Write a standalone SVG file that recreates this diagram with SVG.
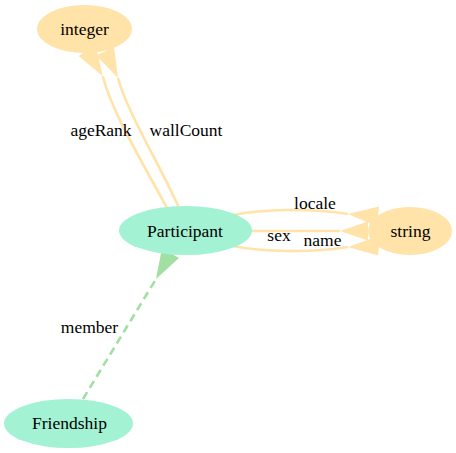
<svg xmlns="http://www.w3.org/2000/svg" width="456" height="453" viewBox="0 0 456 453" font-family="'Liberation Serif', 'DejaVu Serif', serif">
<style>
.warm{fill:#FFE3A8;stroke:none}
.cool{fill:#A3F2D4;stroke:none}
text{font-family:'Liberation Serif','DejaVu Serif',serif;font-size:17.5px;fill:#000;text-anchor:middle}
.we{fill:none;stroke:#FFE3A8;stroke-width:2.6}
.ge{fill:none;stroke:#A2DFA2;stroke-width:2.6;stroke-dasharray:8,5}
.wa{fill:#FFE3A8;stroke:none}
.ga{fill:#A2DFA2;stroke:none}
</style>
<rect width="456" height="453" fill="#fff"/>
<g id="connectors">
<g id="e-ageRank">
<path class="we" d="M167,208 C140,158 112,112 102.8,76.3"/>
<polygon class="wa" points="102.8,76.3 78.7,55.9 95.7,45.5"/>
<text x="101" y="136">ageRank</text>
</g>
<g id="e-wallCount">
<path class="we" d="M179,208 C160,165 127,112 118,78"/>
<polygon class="wa" points="118,78 96.2,55.6 114,47"/>
<text x="186" y="136">wallCount</text>
</g>
<g id="e-locale">
<path class="we" d="M233,215 C262,209 312,208 348,214"/>
<polygon class="wa" points="348,214 379,206.5 377,226.5"/>
<text x="315" y="209">locale</text>
</g>
<g id="e-sex">
<path class="we" d="M252,231 L340,231"/>
<polygon class="wa" points="340,231 368,221.5 368,240.5"/>
<text x="279" y="241">sex</text>
</g>
<g id="e-name">
<path class="we" d="M233,246 C262,252 312,253 348,247"/>
<polygon class="wa" points="348,247 380,235.5 378,255.5"/>
<text x="322.5" y="246">name</text>
</g>
<g id="e-member">
<path class="ge" d="M83,399 L156,279"/>
<polygon class="ga" points="156,279 162,248 179,258"/>
<text x="89.5" y="333">member</text>
</g>
</g>
<g id="n-integer">
<ellipse class="warm" cx="84.5" cy="29" rx="47.5" ry="24"/>
<text x="84.5" y="34.5">integer</text>
</g>
<g id="n-string">
<ellipse class="warm" cx="410" cy="231" rx="42" ry="24"/>
<text x="410.5" y="236.5">string</text>
</g>
<g id="n-Participant">
<ellipse class="cool" cx="185.5" cy="230.5" rx="66.5" ry="24.5"/>
<text x="185" y="236.5">Participant</text>
</g>
<g id="n-Friendship">
<ellipse class="cool" cx="68.5" cy="423.5" rx="64.5" ry="24.5"/>
<text x="69.5" y="429">Friendship</text>
</g>
</svg>
